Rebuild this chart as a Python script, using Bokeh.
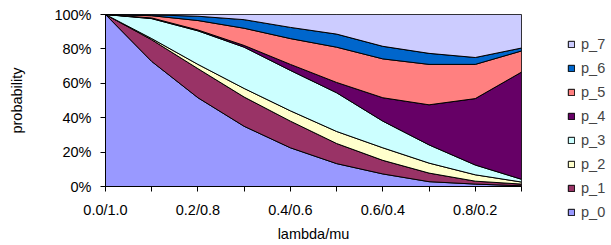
from bokeh.plotting import figure
from bokeh.layouts import row
from bokeh.models import FixedTicker, NumeralTickFormatter, Legend, LegendItem, Range1d
from bokeh.embed import file_html
from bokeh.resources import INLINE

categories = ["0.0/1.0", "0.1/0.9", "0.2/0.8", "0.3/0.7", "0.4/0.6",
              "0.5/0.5", "0.6/0.4", "0.7/0.3", "0.8/0.2", "0.9/0.1"]

# probabilities in percent
p_0 = [100, 72.7, 51.6, 35.0, 22.5, 13.3, 7.3, 2.8, 1.4, 0.4]
p_1 = [0, 12.6, 16.9, 17.0, 15.5, 11.7, 7.9, 5.0, 1.7, 1.0]
p_2 = [0, 0.7, 2.5, 5.0, 6.0, 7.0, 7.3, 5.8, 3.7, 1.2]
p_3 = [0, 11.6, 19.5, 24.0, 23.5, 22.5, 15.5, 10.6, 5.7, 1.6]
p_4 = [0, 0.4, 0.5, 1.0, 3.5, 6.0, 13.6, 23.3, 38.6, 62.3]
p_5 = [0, 1.3, 5.5, 10.0, 15.0, 20.5, 22.6, 23.5, 19.9, 12.3]
p_6 = [0, 0.5, 2.5, 5.0, 6.5, 7.6, 7.3, 6.4, 4.0, 1.7]
p_7 = [0, 0.2, 1.0, 3.0, 7.5, 11.4, 18.5, 22.6, 25.0, 19.5]

series_names = ["p_0", "p_1", "p_2", "p_3", "p_4", "p_5", "p_6", "p_7"]
series = [p_0, p_1, p_2, p_3, p_4, p_5, p_6, p_7]
colors = ["#9999FF", "#993366", "#FFFFCC", "#CCFFFF",
          "#660066", "#FF8080", "#0066CC", "#CCCCFF"]

FONT = "Liberation Sans"
FS = "14.5px"
H = 244
n = len(categories)
x = list(range(n))
totals = [sum(s[i] for s in series) for i in range(n)]

p = figure(width=523, height=H, output_backend="svg", toolbar_location=None,
           x_range=Range1d(0, n - 1), y_range=Range1d(0, 1),
           min_border_left=105, min_border_right=2, min_border_top=14,
           min_border_bottom=H - 186)

# legend panel: separate figure, legend in a side panel so it is not clipped
lg = figure(width=84, height=H, output_backend="svg", toolbar_location=None,
            x_range=Range1d(0, 1), y_range=Range1d(0, 1),
            x_axis_type=None, y_axis_type=None, min_border=0)
lg.outline_line_color = None
lg.background_fill_color = "white"
lg.border_fill_color = "white"

bottom = [0.0] * n
proxies = []
for name, s, c in zip(series_names, series, colors):
    top = [bottom[i] + s[i] / totals[i] for i in range(n)]
    xs = x + x[::-1]
    ys = top + bottom[::-1]
    p.patch(xs, ys, fill_color=c, line_color="black", line_width=1)
    r = lg.patch(xs, ys, fill_color=c, line_color="black", line_width=1, visible=False)
    proxies.append((name, r))
    bottom = top

p.xgrid.visible = False
p.ygrid.visible = False
p.outline_line_color = "#404040"
p.background_fill_color = "white"

p.xaxis.ticker = FixedTicker(ticks=x)
p.xaxis.major_label_overrides = {i: (categories[i] if i % 2 == 0 else "") for i in x}
p.yaxis.ticker = FixedTicker(ticks=[0, 0.2, 0.4, 0.6, 0.8, 1.0])
p.yaxis.formatter = NumeralTickFormatter(format="0%")

for ax in (p.xaxis[0], p.yaxis[0]):
    ax.axis_line_color = "black"
    ax.major_tick_line_color = "black"
    ax.major_tick_out = 5
    ax.major_tick_in = 0
    ax.minor_tick_line_color = None
    ax.major_label_text_font = FONT
    ax.major_label_text_font_size = FS
    ax.major_label_text_color = "black"
    ax.axis_label_text_font = FONT
    ax.axis_label_text_font_size = FS
    ax.axis_label_text_font_style = "normal"
    ax.axis_label_text_color = "black"

p.xaxis.axis_label = "lambda/mu"
p.yaxis.axis_label = "probability"
p.xaxis.major_label_standoff = 10
p.xaxis.axis_label_standoff = 5
p.yaxis.major_label_standoff = 9
p.yaxis.axis_label_standoff = 26

items = [LegendItem(label=name, renderers=[r]) for name, r in reversed(proxies)]
legend = Legend(items=items, location=(44, -36), orientation="vertical",
                glyph_width=8, glyph_height=8, label_height=20, spacing=4,
                label_standoff=6, padding=0, margin=0,
                border_line_color=None, background_fill_alpha=0,
                inactive_fill_alpha=0, click_policy="none",
                label_text_font=FONT, label_text_font_size=FS)
lg.add_layout(legend, "left")

layout = row(p, lg)
open("out.html", "w").write(file_html(layout, INLINE))
